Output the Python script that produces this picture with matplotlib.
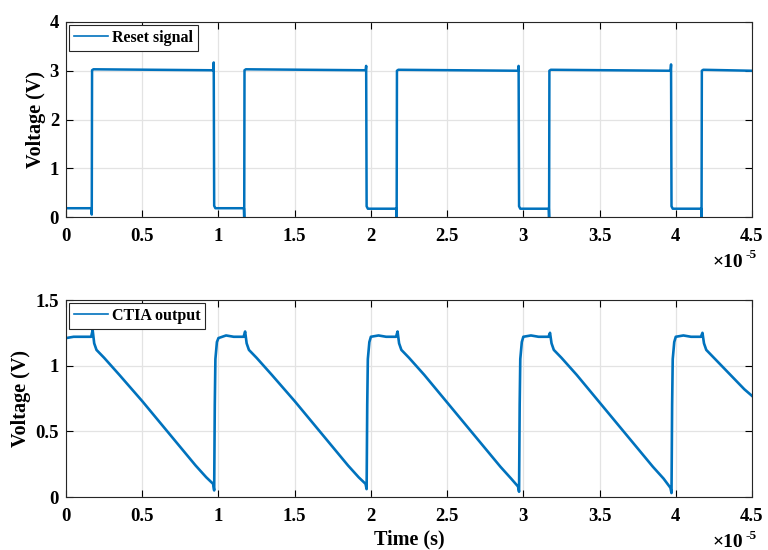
import numpy as np
import matplotlib
matplotlib.use("Agg")
import matplotlib.pyplot as plt

# ---------------- data (time in units of 1e-5 s) ----------------
reset_rise = [0.17, 1.17, 2.17, 3.17, 4.17]
reset_fall = [0.97, 1.97, 2.97, 3.97]
reset_high = [3.01, 3.01, 3.00, 3.00, 3.00]
reset_low = [0.18, 0.18, 0.17, 0.17, 0.17]
reset_spike = [3.17, 3.10, 3.10, 3.13]

ctia_t = [0.00, 0.05, 0.10, 0.165, 0.175, 0.185, 0.20, 0.25, 0.35, 0.50, 0.65, 0.75, 0.85, 0.92, 0.965, 0.972,
          0.976, 0.98, 0.99, 1.00, 1.05, 1.10, 1.165, 1.175, 1.185, 1.20, 1.25, 1.35, 1.50, 1.65, 1.75, 1.85, 1.92, 1.965, 1.972,
          1.976, 1.98, 1.99, 2.00, 2.05, 2.10, 2.165, 2.175, 2.185, 2.20, 2.25, 2.35, 2.50, 2.65, 2.75, 2.85, 2.92, 2.965, 2.972,
          2.976, 2.98, 2.99, 3.00, 3.05, 3.10, 3.165, 3.175, 3.185, 3.20, 3.25, 3.35, 3.50, 3.65, 3.75, 3.85, 3.92, 3.965, 3.972,
          3.976, 3.98, 3.99, 4.00, 4.05, 4.10, 4.165, 4.175, 4.185, 4.20, 4.25, 4.35, 4.45, 4.50]
ctia_v = [1.21, 1.22, 1.22, 1.22, 1.27, 1.17, 1.12, 1.06, 0.93, 0.73, 0.52, 0.38, 0.24, 0.15, 0.10, 0.05,
          0.70, 1.05, 1.18, 1.21, 1.23, 1.22, 1.22, 1.26, 1.17, 1.12, 1.06, 0.93, 0.73, 0.52, 0.38, 0.24, 0.15, 0.10, 0.06,
          0.70, 1.05, 1.18, 1.22, 1.23, 1.22, 1.22, 1.26, 1.17, 1.12, 1.06, 0.93, 0.72, 0.51, 0.37, 0.23, 0.14, 0.08, 0.04,
          0.70, 1.05, 1.18, 1.22, 1.23, 1.22, 1.22, 1.25, 1.17, 1.12, 1.06, 0.93, 0.72, 0.51, 0.37, 0.23, 0.14, 0.07, 0.03,
          0.70, 1.05, 1.18, 1.22, 1.23, 1.22, 1.22, 1.25, 1.17, 1.12, 1.06, 0.94, 0.82, 0.77]

x_ticks = [0, 0.5, 1, 1.5, 2, 2.5, 3, 3.5, 4, 4.5]
top_yticks = [0, 1, 2, 3, 4]
bot_yticks = [0, 0.5, 1, 1.5]

# build reset waveform from edges
rt, rv = [0.0], [reset_low[0]]
for i, r in enumerate(reset_rise):
    rt += [r - 0.003, r - 0.001, r + 0.001, r + 0.01]
    rv += [reset_low[i], reset_low[i] - 0.2 if i > 0 else 0.05, reset_high[i], reset_high[i] + 0.02]
    if i < len(reset_fall):
        f = reset_fall[i]
        rt += [f - 0.004, f - 0.001, f + 0.002, f + 0.01]
        rv += [reset_high[i], reset_spike[i], reset_low[i + 1] + 0.05, reset_low[i + 1]]
rt.append(4.5)
rv.append(reset_high[-1])

# ---------------- style ----------------
plt.rcParams['font.family'] = ['Liberation Serif', 'DejaVu Serif']
plt.rcParams['font.weight'] = 'bold'
plt.rcParams['axes.labelweight'] = 'bold'
blue = '#0072BD'

fig = plt.figure(figsize=(7.68, 5.5), dpi=100)
ax1 = fig.add_axes([66 / 768, 1 - 217 / 550, 686 / 768, 195 / 550])
ax2 = fig.add_axes([66 / 768, 1 - 497 / 550, 686 / 768, 197 / 550])


def style(ax, yt, ylim):
    ax.set_xlim(0, 4.5)
    ax.set_ylim(*ylim)
    ax.set_xticks(x_ticks)
    ax.set_xticklabels(['%g' % v for v in x_ticks])
    ax.set_yticks(yt)
    ax.set_yticklabels(['%g' % v for v in yt])
    ax.grid(True, color='#e3e3e3', linewidth=0.9)
    ax.set_axisbelow(True)
    ax.tick_params(direction='in', length=5, width=0.8, labelsize=13.5, top=True, right=True)
    ax.tick_params(axis='x', pad=8)
    ax.tick_params(axis='y', pad=5)
    for s in ax.spines.values():
        s.set_linewidth(0.8)
        s.set_color('#262626')
    for lbl in ax.get_xticklabels() + ax.get_yticklabels():
        lbl.set_fontweight('bold')
    ax.set_ylabel('Voltage (V)', fontsize=14.5, fontweight='bold', labelpad=3)


ax1.plot(rt, rv, color=blue, linewidth=1.8, label='Reset signal')
style(ax1, top_yticks, (0, 4))
ax2.plot(ctia_t, ctia_v, color=blue, linewidth=1.9, label='CTIA output')
style(ax2, bot_yticks, (0, 1.5))
ax2.set_xlabel('Time (s)', fontsize=14.5, fontweight='bold', labelpad=3)

for ax in (ax1, ax2):
    leg = ax.legend(loc='upper left', frameon=True, fancybox=False,
                    borderpad=0.3, handlelength=2.1, handletextpad=0.28, borderaxespad=0.2,
                    prop={'weight': 'bold', 'size': 11.5})
    leg.get_frame().set_edgecolor('#262626')
    leg.get_frame().set_linewidth(0.8)
    leg.get_frame().set_alpha(1)
    leg.get_lines()[0].set_linewidth(1.2)

for ax in (ax1, ax2):
    ax.text(0.942, -0.19, '\u00d710', transform=ax.transAxes, fontsize=14, fontweight='bold', va='top', ha='left')
    ax.text(0.99, -0.165, '-5', transform=ax.transAxes, fontsize=9.5, fontweight='bold', va='top', ha='left')

fig.savefig('out.png', dpi=100)
